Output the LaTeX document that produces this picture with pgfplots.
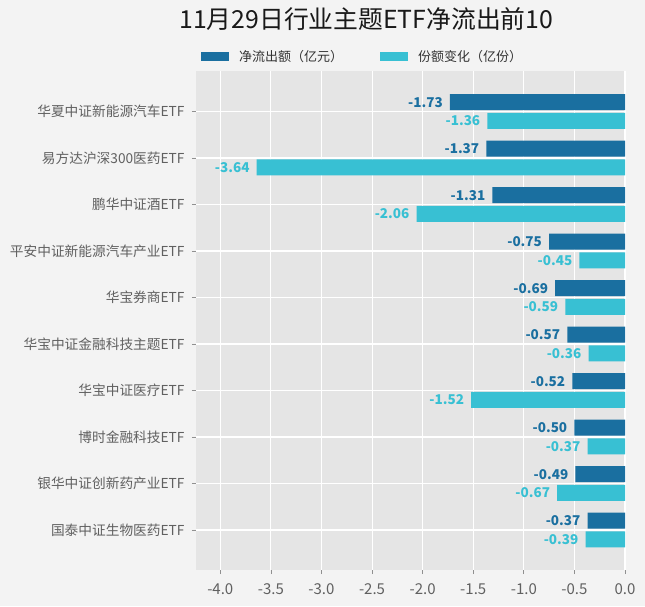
\documentclass[border=0pt]{standalone}
\usepackage{fontspec}
\setmainfont{Noto Sans CJK SC}
\usepackage{pgfplots}
\pgfplotsset{compat=1.18}
\definecolor{netout}{HTML}{1A6FA0}
\definecolor{share}{HTML}{38C0D3}
\definecolor{pagebg}{HTML}{F3F3F3}
\definecolor{plotbg}{HTML}{E5E5E5}
\definecolor{labgray}{HTML}{606060}

\pgfplotsset{
  barlegend/.style={legend image code/.code={\fill[##1] (0pt,-4.5pt) rectangle (28pt,4.5pt);}},
}

\begin{document}
\begin{tikzpicture}[x=1pt,y=1pt]
\useasboundingbox (-196,-36) rectangle (449,570);
\fill[pagebg] (-196,-36) rectangle (449,570);
\begin{axis}[
    at={(0,0)}, anchor=south west,
    scale only axis,
    width=429pt, height=499pt,
    xbar,
    bar width=16pt,
    xmin=-4.24, xmax=0,
    ymin=-0.86, ymax=9.87,
    xtick={-4,-3.5,...,0},
    ytick={0,...,9},
    yticklabels={国泰中证生物医药ETF, 银华中证创新药产业ETF, 博时金融科技ETF,
      华宝中证医疗ETF, 华宝中证金融科技主题ETF, 华宝券商ETF,
      平安中证新能源汽车产业ETF, 鹏华中证酒ETF, 易方达沪深300医药ETF,
      华夏中证新能源汽车ETF},
    /pgf/number format/assume math mode=true,
    grid=major,
    grid style={white, line width=1.1pt},
    axis background/.style={fill=plotbg},
    axis line style={draw=none},
    tick align=outside, tick pos=left,
    major tick length=4pt,
    tick style={draw=labgray!70, line width=0.7pt},
    ticklabel style={text=labgray},
    xticklabel style={font=\fontsize{15}{17}\selectfont, yshift=-6pt,
      /pgf/number format/.cd, fixed, fixed zerofill, precision=1},
    yticklabel style={font=\fontsize{13.7}{15}\selectfont, xshift=-4pt},
    title={11月29日行业主题ETF净流出前10},
    title style={at={(axis description cs:0.397,1.092)}, anchor=center,
      font=\fontsize{24.8}{28}\selectfont, text=black!90},
    legend style={at={(axis description cs:0.0117,1.029)}, anchor=west,
      draw=none, fill=none, inner sep=0pt,
      font=\fontsize{13}{15}\selectfont, text=black!80,
      /tikz/every odd column/.append style={column sep=8pt},
      /tikz/every even column/.append style={column sep=35pt}},
    legend columns=2,
    legend cell align=left,
    point meta=x,
    nodes near coords={\pgfmathprintnumber[fixed, fixed zerofill, precision=2]{\pgfplotspointmeta}},
    every node near coord/.append style={anchor=east, inner sep=0pt, xshift=-7pt,
      font=\bfseries\fontsize{13.5}{15}\selectfont},
]
\addplot[fill=netout, draw=none, bar shift=9.3pt, barlegend,
  every node near coord/.append style={text=netout}] coordinates {
  (-1.73,9) (-1.37,8) (-1.31,7) (-0.75,6) (-0.69,5)
  (-0.57,4) (-0.52,3) (-0.50,2) (-0.49,1) (-0.37,0)
};
\addplot[fill=share, draw=none, bar shift=-9.3pt, barlegend,
  every node near coord/.append style={text=share}] coordinates {
  (-1.36,9) (-3.64,8) (-2.06,7) (-0.45,6) (-0.59,5)
  (-0.36,4) (-1.52,3) (-0.37,2) (-0.67,1) (-0.39,0)
};
\legend{净流出额（亿元）, 份额变化（亿份）}
\end{axis}
\end{tikzpicture}
\end{document}
